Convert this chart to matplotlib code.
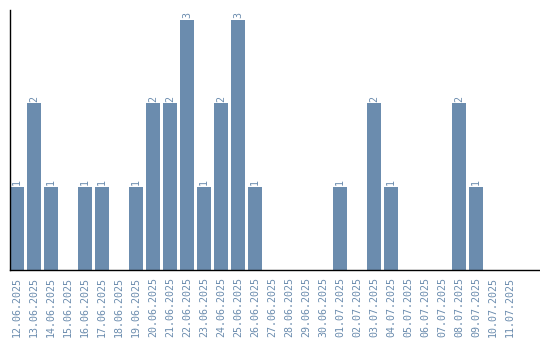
import matplotlib
matplotlib.use("Agg")
import matplotlib.pyplot as plt

dates = ["12.06.2025", "13.06.2025", "14.06.2025", "15.06.2025", "16.06.2025",
         "17.06.2025", "18.06.2025", "19.06.2025", "20.06.2025", "21.06.2025",
         "22.06.2025", "23.06.2025", "24.06.2025", "25.06.2025", "26.06.2025",
         "27.06.2025", "28.06.2025", "29.06.2025", "30.06.2025", "01.07.2025",
         "02.07.2025", "03.07.2025", "04.07.2025", "05.07.2025", "06.07.2025",
         "07.07.2025", "08.07.2025", "09.07.2025", "10.07.2025", "11.07.2025"]
counts = [1, 2, 1, 0, 1, 1, 0, 1, 2, 2, 3, 1, 2, 3, 1,
          0, 0, 0, 0, 1, 0, 2, 1, 0, 0, 0, 2, 1, 0, 0]

bar_color = "#6b8cae"
text_color = "#6b8cae"
font = "DejaVu Sans Mono"

fig = plt.figure(figsize=(5.4, 3.4), dpi=100)
ax = fig.add_axes([10/540, 1 - 270/340, 530/540, 260/340])
x = list(range(len(dates)))
bars = ax.bar(x, counts, width=14/17, color=bar_color)
ax.set_xlim(-7/17, (540 - 17) / 17)
ax.set_ylim(0, 3.12)

for xi, c in zip(x, counts):
    if c > 0:
        ax.text(xi, c + 0.02, str(c), rotation=90, ha="center", va="bottom",
                color=text_color, fontsize=7.2, family=font)

ax.set_xticks(x)
ax.set_xticklabels(dates, rotation=90, color=text_color, fontsize=7.2, family=font)
ax.tick_params(axis="x", length=0, pad=5)
ax.set_yticks([])
for s in ["top", "right"]:
    ax.spines[s].set_visible(False)
ax.spines["left"].set_linewidth(1)
ax.spines["bottom"].set_linewidth(1)

fig.savefig("out.png", dpi=100)
